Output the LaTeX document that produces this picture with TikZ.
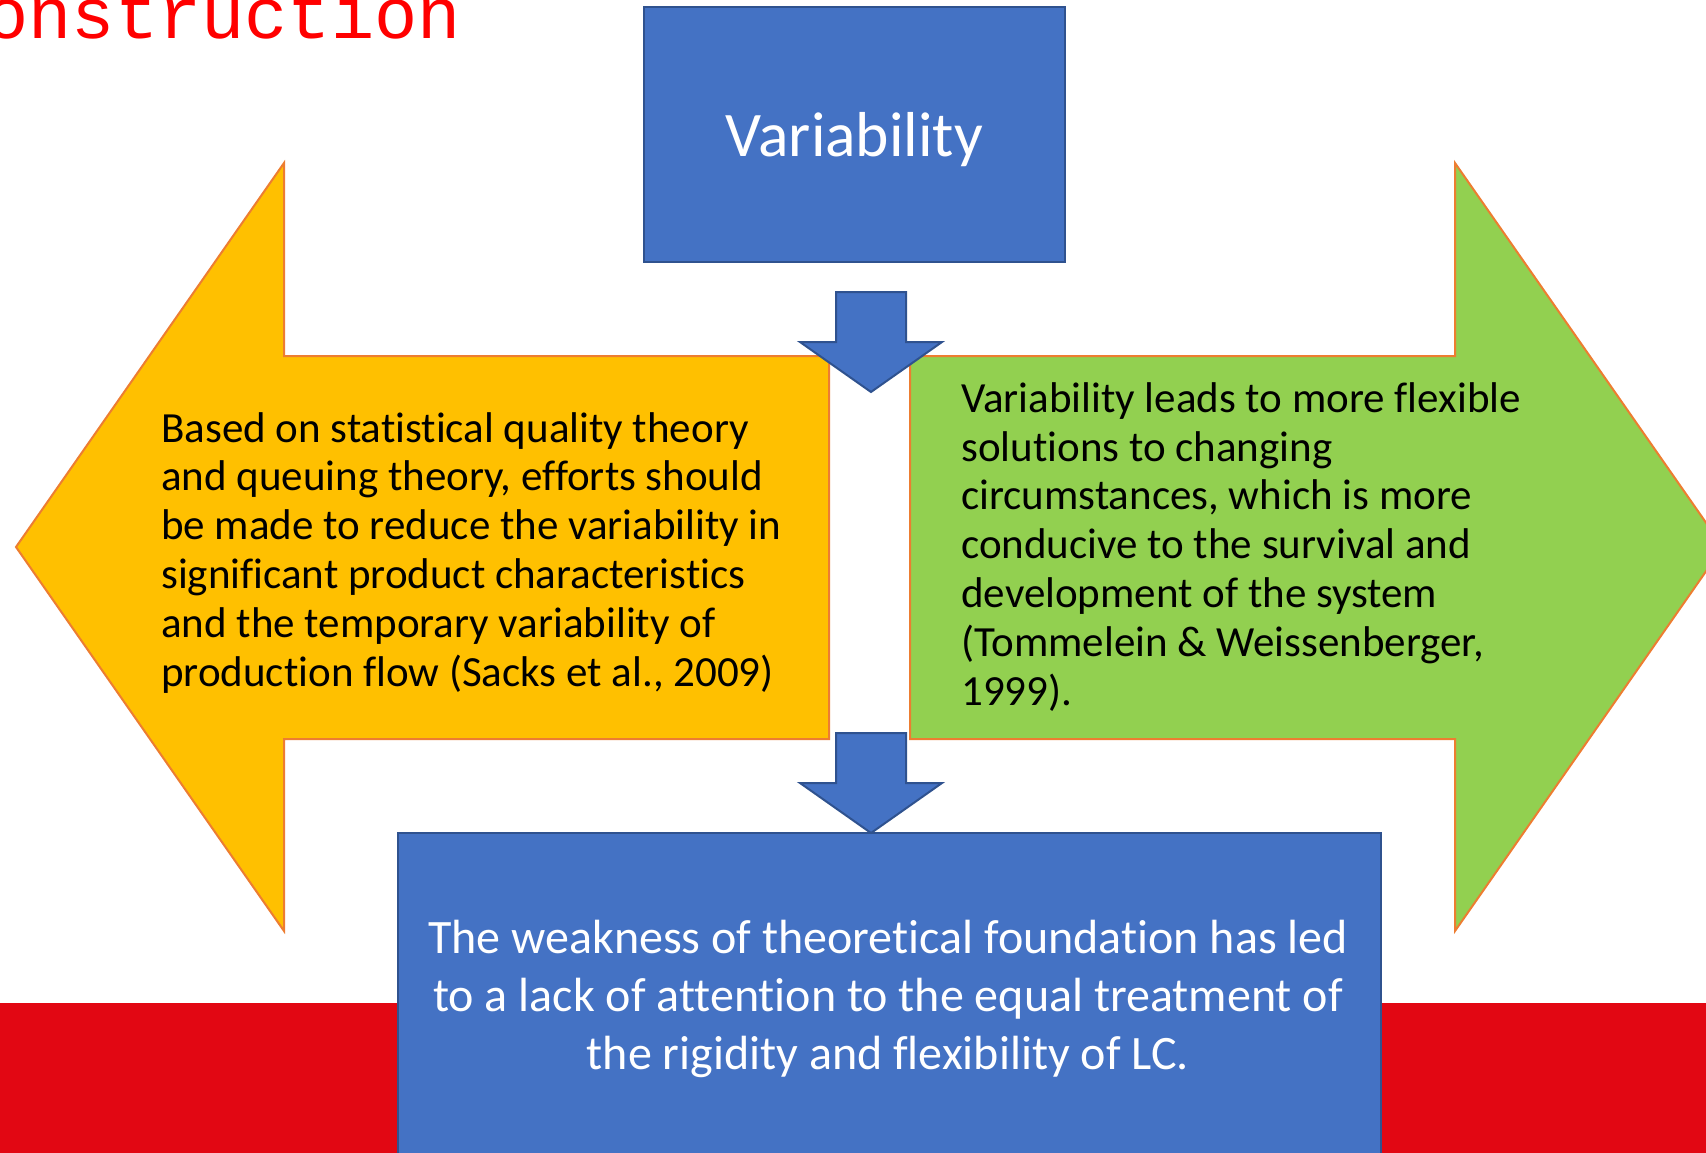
\documentclass[tikz,border=0pt]{standalone}
\usepackage{fontspec}
\setmainfont{Carlito}[Ligatures=NoCommon]
\newfontfamily\titlefont{Liberation Mono}
\definecolor{boxblue}{HTML}{4472C4}
\definecolor{boxedge}{HTML}{2F528F}
\definecolor{armyellow}{HTML}{FFC000}
\definecolor{armgreen}{HTML}{92D050}
\definecolor{armedge}{HTML}{ED7D31}
\definecolor{bandred}{RGB}{226,7,19}
\tikzset{
  bluebox/.style={fill=boxblue, draw=boxedge, line width=2pt, inner sep=0pt},
  sidearrow/.style={draw=armedge, line width=2pt, line join=miter},
  downblock/.pic={\draw[fill=boxblue, draw=boxedge, line width=2pt]
     (-35,0) -- (35,0) -- (35,50) -- (71,50) -- (0,100) -- (-71,50) -- (-35,50) -- cycle;},
  armtext/.style={anchor=base west, inner sep=0pt, align=left, text=black,
     font=\fontsize{43}{48.8}\selectfont},
}
\begin{document}
\begin{tikzpicture}[x=1pt,y=-1pt]
\clip (0,0) rectangle (1706,1153);
\fill[white] (0,0) rectangle (1706,1153);
% red band
\fill[bandred] (0,1003) rectangle (1706,1153);
% title (clipped at left edge)
\node[anchor=base east, inner sep=0pt, text=red, font=\titlefont\fontsize{72}{72}\selectfont] (title) at (461,39) {Construction};
% side arrows
\draw[sidearrow, fill=armyellow] (16,547) -- (284,163) -- (284,356) -- (829,356) -- (829,739) -- (284,739) -- (284,931) -- cycle;
\draw[sidearrow, fill=armgreen] (1723,547) -- (1455,163) -- (1455,356) -- (910,356) -- (910,739) -- (1455,739) -- (1455,931) -- cycle;
% top box
\node[bluebox, minimum width=421pt, minimum height=255pt, text=white,
      font=\fontsize{63.5}{70}\selectfont, text depth=0pt] (var) at (854.5,134.5) {Variability};
% bottom box
\node[bluebox, anchor=north west, minimum width=983pt, minimum height=340pt] (concl) at (397,832) {};
% down block arrows
\pic at (871,292) {downblock};
\pic at (871,733) {downblock};
% texts (anchor base = baseline of the last line)
\node[armtext] (lefttext) at (161,686) {Based on statistical quality theory\\and queuing theory, efforts should\\be made to reduce the variability in\\significant product characteristics\\and the temporary variability of\\production flow (Sacks et al., 2009)};
\node[armtext] (righttext) at (961,705) {Variability leads to more flexible\\solutions to changing\\circumstances, which is more\\conducive to the survival and\\development of the system\\(Tommelein \& Weissenberger,\\1999).};
\node[anchor=base, inner sep=0pt, align=center, text=white, font=\fontsize{48}{58}\selectfont] (concltext) at (888,1069) {The weakness of theoretical foundation has led\\to a lack of attention to the equal treatment of\\the rigidity and flexibility of LC.};
\end{tikzpicture}
\end{document}
